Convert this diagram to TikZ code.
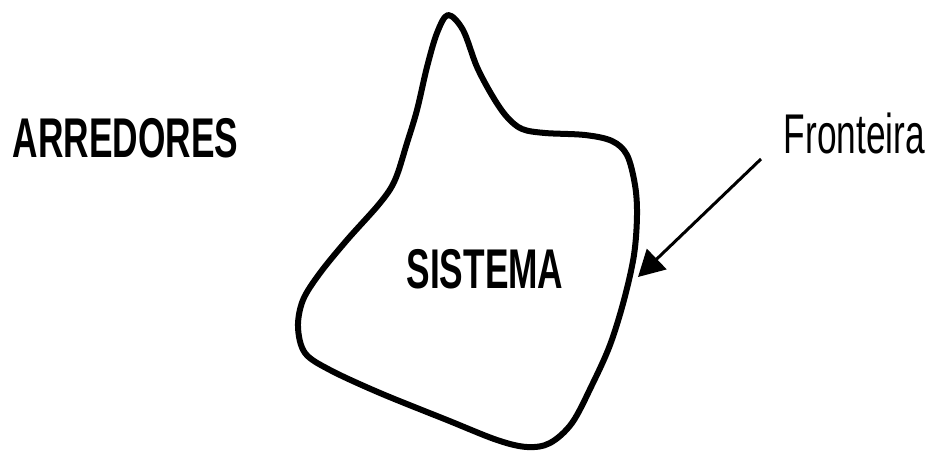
\documentclass[tikz,border=0pt]{standalone}
\usepackage{fontspec}
\setmainfont{Liberation Sans}
\usetikzlibrary{arrows.meta}
\tikzset{
  lbl/.style={inner sep=0pt, anchor=base, font=\fontsize{56}{60}\selectfont},
  boundary/.style={line width=6pt, line join=round},
  pointer/.style={line width=3pt, -{Triangle[length=26pt,width=28pt]}}
}
\begin{document}
\begin{tikzpicture}[x=1pt,y=-1pt]
\useasboundingbox (0,0) rectangle (929,455);
\draw[boundary] plot[smooth cycle, tension=0.55] coordinates {
(448,15) (463,30) (477,67) (493,97) (507,117) (522,129) (545,133) (585,135)
(612,141) (627,155) (635,185) (637,215) (634,255) (624,300) (610,345)
(592,385) (572,423) (550,443) (527,447) (497,440) (447,420) (380,393)
(330,370) (305,353) (298,327) (303,300) (320,273) (347,240) (380,203)
(395,180) (407,143) (417,110) (427,67) (437,33)};
\node[lbl] (arr) at (125.5,157) {\scalebox{0.63}[1]{\bfseries ARREDORES}};
\node[lbl] (sis) at (485,288) {\scalebox{0.63}[1]{\bfseries SISTEMA}};
\node[lbl] (fro) at (854.5,153) {\scalebox{0.63}[1]{Fronteira}};
\coordinate (start) at (761,159);
\coordinate (tip) at (638,277);
\draw[pointer] (start) -- (tip);
\end{tikzpicture}
\end{document}
